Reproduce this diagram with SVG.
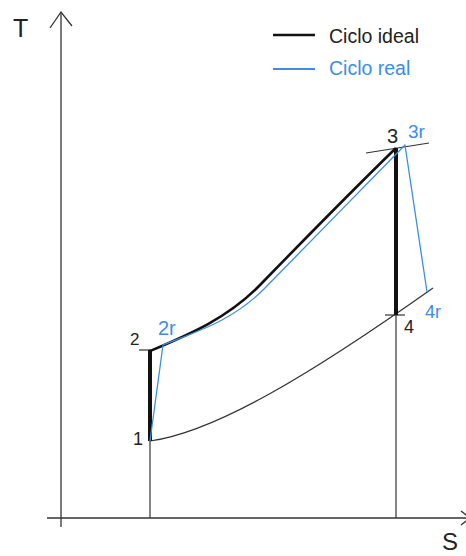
<svg xmlns="http://www.w3.org/2000/svg" width="466" height="556" viewBox="0 0 466 556">
<style>
.ax{stroke:#333;stroke-width:1.3;fill:none}
.thin{stroke:#333;stroke-width:1.2;fill:none}
.ideal{stroke:#111;stroke-width:2.6;fill:none;stroke-linejoin:round}
.thick{stroke:#111;stroke-width:4;fill:none}
.real{stroke:#3a8ee6;stroke-width:1.3;fill:none;stroke-linejoin:round}
.t{font-family:"Liberation Sans",Arial,sans-serif;fill:#222}
.b{font-family:"Liberation Sans",Arial,sans-serif;fill:#3a8ee6}
</style>
<rect width="466" height="556" fill="#fff"/>
<g id="axes">
<line class="ax" x1="61" y1="527" x2="61" y2="12"/>
<polyline class="ax" points="50,28 61,12 72,26"/>
<line class="ax" x1="47" y1="518" x2="466" y2="518"/>
<polyline class="ax" points="461,511 470,518 461,525"/>
<text class="t" x="13" y="37" font-size="25">T</text>
<text class="t" x="442" y="550" font-size="24">S</text>
</g>
<g id="legend">
<line x1="273" y1="35" x2="315" y2="35" stroke="#111" stroke-width="2.6"/>
<text class="t" x="329" y="43" font-size="19.5">Ciclo ideal</text>
<line x1="273" y1="69" x2="315" y2="69" stroke="#3a8ee6" stroke-width="2"/>
<text class="b" x="329" y="75" font-size="19.5">Ciclo real</text>
</g>
<g id="connectors">
<line class="thin" x1="150" y1="350" x2="150" y2="518"/>
<line class="thin" x1="396" y1="148" x2="396" y2="518"/>
<path class="thin" d="M150,441 C215,432 310,375 433,288"/>
<line class="thin" x1="366" y1="153" x2="429" y2="143"/>
<line class="thin" x1="139" y1="350" x2="151" y2="350"/>
<line class="thin" x1="385" y1="315" x2="405" y2="315"/>
<line class="thick" x1="150" y1="441" x2="150" y2="350"/>
<line class="thick" x1="396" y1="148" x2="396" y2="315"/>
<path class="ideal" d="M150,351 C190,334 228,318 260,285 C295,249 360,183 396,148"/>
<path class="real" d="M150,441 L163,345 C198,331 232,321 264,289 C300,252 365,186 405,145 L427,292"/>
</g>
<g id="p1"><text class="t" x="133" y="445" font-size="18">1</text></g>
<g id="p2"><text class="t" x="130" y="345" font-size="17">2</text></g>
<g id="p2r"><text class="b" x="158" y="335" font-size="20">2r</text></g>
<g id="p3"><text class="t" x="387" y="143" font-size="20">3</text></g>
<g id="p3r"><text class="b" x="408" y="138" font-size="19">3r</text></g>
<g id="p4"><text class="t" x="404" y="333" font-size="18">4</text></g>
<g id="p4r"><text class="b" x="425" y="318" font-size="18">4r</text></g>
</svg>
